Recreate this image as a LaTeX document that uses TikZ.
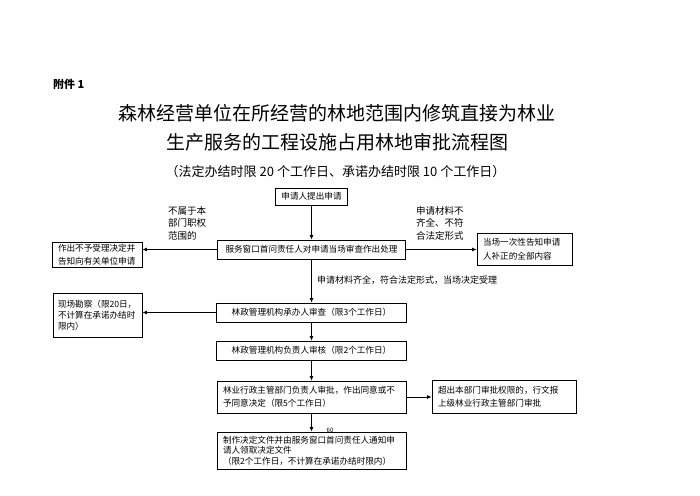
\documentclass[tikz,border=0pt]{standalone}
\usepackage{fontspec}
\setmainfont{Noto Sans CJK SC}
\usetikzlibrary{arrows.meta, positioning}
\tikzset{
    stepbox/.style={
        draw,
        line width=0.8pt,
        inner xsep=6pt,
        inner ysep=1pt,
        align=center,
        font=\fontsize{8.6}{12.5}\selectfont
    },
    wrapbox/.style={
        stepbox,
        align=left
    },
    sidenote/.style={font=\fontsize{9.5}{12.5}\selectfont, align=left, inner sep=0pt},
    flow/.style={-{Latex[length=4.5pt,width=4pt]}, line width=0.8pt}
}

\begin{document}
\begin{tikzpicture}[
    x=1pt,y=-1pt,
    heading/.style={font=\fontsize{11}{13}\selectfont\bfseries, inner sep=0pt},
    titleline/.style={font=\fontsize{19}{21}\selectfont, inner sep=0pt},
    subline/.style={font=\fontsize{13}{15}\selectfont, inner sep=0pt}
]
\useasboundingbox (0,0) rectangle (700,495);

% heading
\node[heading, anchor=west] (annex) at (53,84) {附件 1};
\node[titleline] (title) at (337,113) {森林经营单位在所经营的林地范围内修筑直接为林业};
\node[titleline] (title2) at (337,142) {生产服务的工程设施占用林地审批流程图};
\node[subline] (limit) at (335.5,172) {（法定办结时限 20 个工作日、承诺办结时限 10 个工作日）};

% main flow
\node[stepbox, minimum width=71pt, minimum height=17pt] (apply) at (311.5,196.5) {申请人提出申请};
\node[stepbox, minimum width=188pt, minimum height=19pt] (accept) at (311.5,249.5) {服务窗口首问责任人对申请当场审查作出处理};
\node[stepbox, minimum width=190pt, minimum height=19pt] (review) at (311.5,312.5) {林政管理机构承办人审查（限3个工作日）};
\node[stepbox, minimum width=190pt, minimum height=19pt] (audit) at (311.5,350.5) {林政管理机构负责人审核（限2个工作日）};
\node[wrapbox, text width=177pt, minimum height=32pt] (approve) at (311.5,397) {林业行政主管部门负责人审批，作出同意或不\\予同意决定（限5个工作日）};
\node[wrapbox, text width=177pt, minimum height=37pt, font=\fontsize{8.6}{10.5}\selectfont] (issue) at (311.5,450.5) {制作决定文件并由服务窗口首问责任人通知申\\请人领取决定文件\\（限2个工作日，不计算在承诺办结时限内）};

% side boxes
\node[wrapbox, text width=78pt, minimum height=25pt, font=\fontsize{8.6}{13}\selectfont] (reject) at (97,254.5) {作出不予受理决定并\\告知向有关单位申请};
\node[wrapbox, text width=83pt, minimum height=32pt, font=\fontsize{8.6}{14}\selectfont] (correct) at (524.5,249) {当场一次性告知申请\\人补正的全部内容};
\node[wrapbox, text width=79pt, minimum height=44pt, inner xsep=5pt, font=\fontsize{8.6}{11}\selectfont] (survey) at (97.5,315) {现场勘察（限20日，\\不计算在承诺办结时\\限内）};
\node[wrapbox, text width=132pt, minimum height=33pt] (report) at (504,396.5) {超出本部门审批权限的，行文报\\上级林业行政主管部门审批};

% connectors
\draw[flow] (apply) -- (accept);
\draw[flow] (accept.west) -- (accept.west -| reject.east);
\draw[flow] (accept.east) -- (accept.east -| correct.west);
\draw[flow] (accept) -- (review);
\draw[flow] (review.west) -- (review.west -| survey.east);
\draw[flow] (review) -- (audit);
\draw[flow] (audit) -- (approve);
\draw[flow] (approve) -- (issue);
\draw[flow] (approve.east) -- (approve.east -| report.west);

% labels
\node[sidenote, anchor=north west] (outside) at (168,206) {不属于本\\部门职权\\范围的};
\node[sidenote, anchor=north west] (incomplete) at (416,206) {申请材料不\\齐全、不符\\合法定形式};
\node[sidenote, anchor=west, font=\fontsize{9}{11}\selectfont] (accepted) at (317,280) {申请材料齐全，符合法定形式，当场决定受理};
\node[font=\fontsize{6}{7}\selectfont, inner sep=0pt] (pageno) at (330,430) {60};

\end{tikzpicture}
\end{document}
